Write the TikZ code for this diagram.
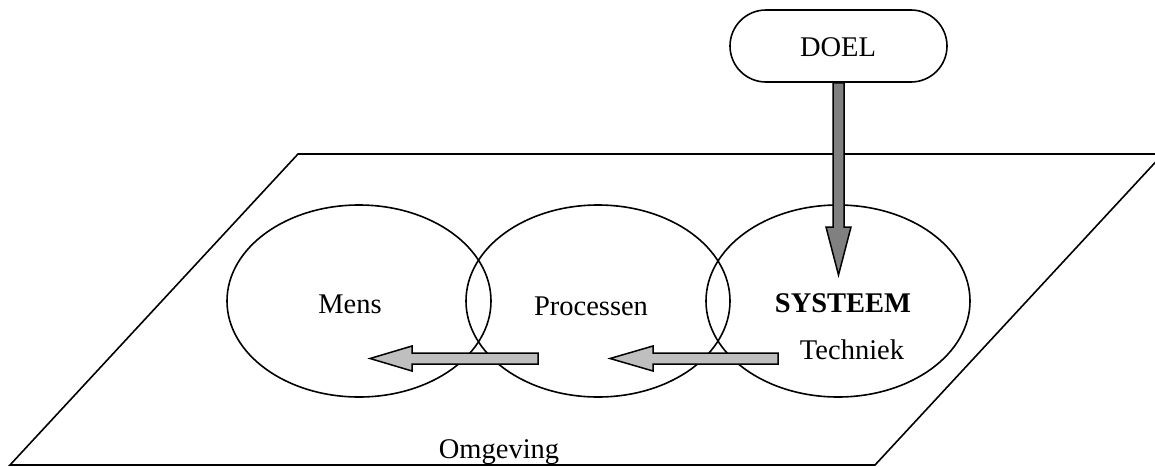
\documentclass[tikz,border=0pt]{standalone}
\usepackage{fontspec}
\setmainfont{Liberation Serif}
\tikzset{
  lbl/.style={anchor=base, inner sep=0pt, font=\fontsize{28.5}{30}\selectfont},
  oval/.style={draw, line width=1.6pt, ellipse, minimum width=264pt, minimum height=192pt, inner sep=0pt},
  darrow/.style={draw, line width=1.5pt, fill=gray!100!black, fill=black!50},
  larrow/.style={draw, line width=1.5pt, fill=black!25},
}
\usetikzlibrary{shapes.geometric}
\begin{document}
\begin{tikzpicture}[x=1pt,y=-1pt]
\useasboundingbox (0,0) rectangle (1155,466);
\begin{scope}
\clip (0,0) rectangle (1155,466);
\draw[line width=1.6pt] (298,154) -- (1163,154) -- (875,465) -- (10,465) -- cycle;
\end{scope}
\node[oval] (mens) at (359,301) {};
\node[oval] (proc) at (598,301) {};
\node[oval] (sys) at (838,301) {};
\node[draw, line width=1.6pt, fill=white, rounded corners=36pt, minimum width=217pt, minimum height=72pt, inner sep=0pt] (doel) at (838.5,46) {};
\node[lbl] (tdoel) at (838,56) {DOEL};
\node[lbl] (tmens) at (350,313) {Mens};
\node[lbl] (tproc) at (591,315) {Processen};
\node[lbl] (tsys) at (843,312) {\bfseries SYSTEEM};
\node[lbl] (ttech) at (852,359) {Techniek};
\node[lbl] (tomg) at (499,458) {Omgeving};
\draw[darrow] (doel.south -| 833,0) -- (833,227) -- (826,227) -- (838.5,275) -- (851,227) -- (844,227) -- (doel.south -| 844,0) -- cycle;
\draw[larrow] (538,353) -- (412,353) -- (412,346) -- (370,358.5) -- (412,371) -- (412,364) -- (538,364) -- cycle;
\draw[larrow] (778,353) -- (653,353) -- (653,346) -- (610,358.5) -- (653,371) -- (653,364) -- (778,364) -- cycle;
\end{tikzpicture}
\end{document}
